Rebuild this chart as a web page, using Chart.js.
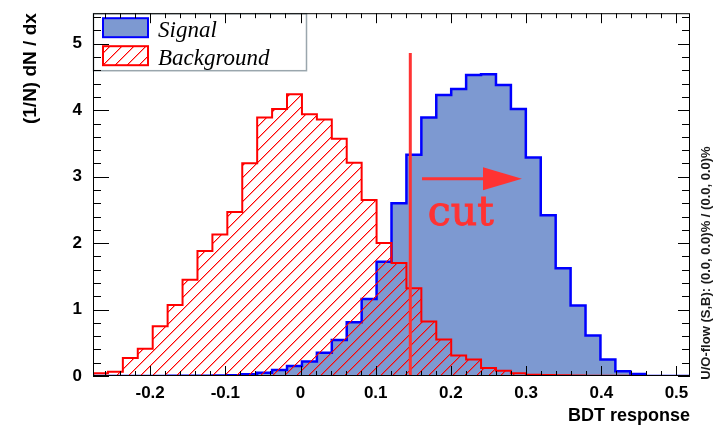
<!DOCTYPE html>
<html>
<head>
<meta charset="utf-8">
<script src="https://cdn.jsdelivr.net/npm/chart.js@4.4.1/dist/chart.umd.min.js"></script>
<style>
  html, body { margin: 0; padding: 0; background: #ffffff; }
  #wrap { width: 722px; height: 426px; }
</style>
</head>
<body>
<div id="wrap"><canvas id="c" width="722" height="426"></canvas></div>
<script>
// Axis ranges and binning of the BDT response histograms
const X_MIN = -0.276;
const X_MAX = 0.518;
const N_BINS = 40;
const Y_MIN = 0;
const Y_MAX = 5.46;

// Normalised bin contents, (1/N) dN/dx, one value per bin from X_MIN upwards
const signalValues = [
  0, 0, 0, 0, 0, 0.002, 0.003, 0.005, 0.008, 0.012,
  0.025, 0.05, 0.09, 0.15, 0.22, 0.35, 0.54, 0.81, 1.16, 1.72,
  2.60, 3.33, 3.89, 4.23, 4.32, 4.53, 4.54, 4.38, 4.02, 3.29,
  2.42, 1.62, 1.06, 0.61, 0.25, 0.07, 0.03, 0, 0, 0
];
const backgroundValues = [
  0.04, 0.065, 0.27, 0.41, 0.75, 1.07, 1.45, 1.88, 2.13, 2.47,
  3.20, 3.89, 4.02, 4.24, 3.94, 3.86, 3.57, 3.21, 2.65, 2.00,
  1.70, 1.32, 0.82, 0.55, 0.31, 0.25, 0.12, 0.08, 0.04, 0.02,
  0.015, 0.01, 0.008, 0.005, 0.003, 0.002, 0.001, 0, 0, 0
];

// Tick labels
const xTickValues = [-0.2, -0.1, 0, 0.1, 0.2, 0.3, 0.4, 0.5];
const xTickLabels = ['-0.2', '-0.1', '0', '0.1', '0.2', '0.3', '0.4', '0.5'];
const yTickValues = [0, 1, 2, 3, 4, 5];
const yTickLabels = ['0', '1', '2', '3', '4', '5'];
const X_MINOR_STEP = 0.02, X_MAJOR_EVERY = 5;
const Y_MINOR_STEP = 0.2, Y_MAJOR_EVERY = 5;

// Cut position and the arrow pointing to the accepted side
const CUT_VALUE = 0.146;
const CUT_TOP = 4.86;
const ARROW_FROM = 0.1616, ARROW_TO = 0.2945, ARROW_HEAD = 0.2427, ARROW_Y = 2.97;
const CUT_TEXT_X = 0.1693, CUT_TEXT_Y = 2.28;

const seriesNames = ['Signal', 'Background'];
const overflowText = 'U/O-flow (S,B): (0.0, 0.0)% / (0.0, 0.0)%';

const SIG_FILL = '#7d99d1';
const SIG_LINE = '#0000ff';
const BKG_LINE = '#ff0000';
const CUT_COLOR = '#ff3333';
const SANS = '"Liberation Sans", Arial, Helvetica, sans-serif';

function histPoints(vals) {
  const w = (X_MAX - X_MIN) / N_BINS;
  const pts = vals.map((v, i) => ({ x: X_MIN + i * w, y: v }));
  pts.push({ x: X_MAX, y: vals[vals.length - 1] });
  return pts;
}

// Diagonal hatch tile ("/" direction)
function hatchPattern(rgb, size) {
  const tile = document.createElement('canvas');
  tile.width = tile.height = size;
  const g = tile.getContext('2d');
  const img = g.createImageData(size, size);
  const put = (px, py, alpha) => {
    const k = (py * size + px) * 4;
    img.data[k] = rgb[0]; img.data[k + 1] = rgb[1]; img.data[k + 2] = rgb[2];
    img.data[k + 3] = Math.max(img.data[k + 3], alpha);
  };
  for (let i = 0; i < size; i++) {
    put(i, size - 1 - i, 255);
    put((i + 1) % size, size - 1 - i, 100);
  }
  g.putImageData(img, 0, 0);
  return g.createPattern(tile, 'repeat');
}
const bkgHatch = hatchPattern([255, 0, 0], 12);

// Frame, inner tick marks, cut marker, legend and side note
const decorations = {
  id: 'decorations',
  afterDatasetsDraw(chart) {
    const { ctx, chartArea: a, scales: { x, y } } = chart;
    ctx.save();

    // cut line + arrow + label
    const cx = x.getPixelForValue(CUT_VALUE);
    ctx.strokeStyle = CUT_COLOR;
    ctx.lineWidth = 3;
    ctx.beginPath();
    ctx.moveTo(cx, y.getPixelForValue(CUT_TOP));
    ctx.lineTo(cx, y.getPixelForValue(0));
    ctx.stroke();
    const ay = y.getPixelForValue(ARROW_Y);
    ctx.beginPath();
    ctx.moveTo(x.getPixelForValue(ARROW_FROM), ay);
    ctx.lineTo(x.getPixelForValue(ARROW_HEAD), ay);
    ctx.stroke();
    ctx.fillStyle = CUT_COLOR;
    ctx.beginPath();
    ctx.moveTo(x.getPixelForValue(ARROW_HEAD), ay - 11.5);
    ctx.lineTo(x.getPixelForValue(ARROW_TO), ay);
    ctx.lineTo(x.getPixelForValue(ARROW_HEAD), ay + 11.5);
    ctx.closePath();
    ctx.fill();
    ctx.font = '41px "DejaVu Serif", serif';
    ctx.textAlign = 'left';
    ctx.textBaseline = 'alphabetic';
    ctx.lineWidth = 1;
    const tx = x.getPixelForValue(CUT_TEXT_X), ty = y.getPixelForValue(CUT_TEXT_Y);
    ctx.fillText('cut', tx, ty);
    ctx.strokeText('cut', tx, ty);

    // legend
    const lx = a.left, ly = a.top;
    ctx.fillStyle = '#ffffff';
    ctx.fillRect(lx, ly, 213, 57);
    ctx.strokeStyle = '#9aa6ad';
    ctx.lineWidth = 1.5;
    ctx.strokeRect(lx + 0.5, ly + 0.5, 213, 57);
    ctx.lineWidth = 2;
    ctx.fillStyle = SIG_FILL;
    ctx.fillRect(lx + 10, ly + 5, 45, 19);
    ctx.strokeStyle = SIG_LINE;
    ctx.strokeRect(lx + 10, ly + 5, 45, 19);
    ctx.fillStyle = bkgHatch;
    ctx.fillRect(lx + 10, ly + 33, 45, 19);
    ctx.strokeStyle = BKG_LINE;
    ctx.strokeRect(lx + 10, ly + 33, 45, 19);
    ctx.fillStyle = '#000000';
    ctx.font = 'italic 23px "Liberation Serif", "Times New Roman", serif';
    ctx.fillText(seriesNames[0], lx + 65, ly + 24);
    ctx.fillText(seriesNames[1], lx + 65, ly + 52);

    // frame
    ctx.strokeStyle = '#000000';
    ctx.lineWidth = 1;
    ctx.strokeRect(a.left + 0.5, a.top + 0.5, a.right - a.left - 1, a.bottom - a.top - 1);

    // x ticks (bottom and top)
    ctx.beginPath();
    for (let k = Math.ceil(X_MIN / X_MINOR_STEP); k * X_MINOR_STEP <= X_MAX + 1e-9; k++) {
      const px = Math.round(x.getPixelForValue(k * X_MINOR_STEP)) + 0.5;
      const len = (k % X_MAJOR_EVERY === 0) ? 10 : 5;
      ctx.moveTo(px, a.bottom);
      ctx.lineTo(px, a.bottom - len);
      ctx.moveTo(px, a.top);
      ctx.lineTo(px, a.top + len);
    }
    // y ticks (left and right)
    for (let k = Math.ceil(Y_MIN / Y_MINOR_STEP); k * Y_MINOR_STEP <= Y_MAX + 1e-9; k++) {
      const py = Math.round(y.getPixelForValue(k * Y_MINOR_STEP)) + 0.5;
      const major = k % Y_MAJOR_EVERY === 0;
      ctx.moveTo(a.left, py);
      ctx.lineTo(a.left + (major ? 16 : 8), py);
      ctx.moveTo(a.right, py);
      ctx.lineTo(a.right - (major ? 12 : 8), py);
    }
    ctx.stroke();

    // under/overflow note on the right side
    ctx.translate(706, 263);
    ctx.rotate(-Math.PI / 2);
    ctx.fillStyle = '#1a1a1a';
    ctx.font = 'bold 13px ' + SANS;
    ctx.textAlign = 'center';
    ctx.textBaseline = 'middle';
    ctx.fillText(overflowText, 0, 0);

    ctx.restore();
  }
};

new Chart(document.getElementById('c'), {
  type: 'line',
  data: {
    datasets: [
      {
        label: seriesNames[1],
        data: histPoints(backgroundValues),
        stepped: 'before',
        borderColor: BKG_LINE,
        borderWidth: 2,
        backgroundColor: bkgHatch,
        fill: 'origin',
        pointRadius: 0,
        order: 0
      },
      {
        label: seriesNames[0],
        data: histPoints(signalValues),
        stepped: 'before',
        borderColor: SIG_LINE,
        borderWidth: 2.5,
        backgroundColor: SIG_FILL,
        fill: 'origin',
        pointRadius: 0,
        order: 1
      }
    ]
  },
  options: {
    responsive: false,
    animation: false,
    devicePixelRatio: 1,
    layout: { padding: { left: 0, right: 32, top: 10, bottom: 0 } },
    plugins: { legend: { display: false }, tooltip: { enabled: false } },
    scales: {
      x: {
        type: 'linear',
        min: X_MIN,
        max: X_MAX,
        grid: { display: false },
        border: { display: false },
        afterFit: (s) => { s.height = 50; },
        afterBuildTicks: (s) => { s.ticks = xTickValues.map(v => ({ value: v })); },
        ticks: {
          color: '#000000',
          padding: -1,
          maxRotation: 0,
          autoSkip: false,
          font: { family: SANS, size: 17, weight: 'bold' },
          callback: (v, i) => xTickLabels[i]
        },
        title: {
          display: true,
          text: 'BDT response',
          align: 'end',
          color: '#000000',
          font: { family: SANS, size: 18, weight: 'bold' },
          padding: { top: 0, bottom: -1 }
        }
      },
      y: {
        type: 'linear',
        min: Y_MIN,
        max: Y_MAX,
        grid: { display: false },
        border: { display: false },
        afterFit: (s) => { s.width = 93; },
        afterBuildTicks: (s) => { s.ticks = yTickValues.map(v => ({ value: v })); },
        ticks: {
          color: '#000000',
          padding: 3,
          autoSkip: false,
          font: { family: SANS, size: 17, weight: 'bold' },
          callback: (v, i) => yTickLabels[i]
        },
        title: {
          display: true,
          text: '(1/N) dN / dx',
          align: 'end',
          color: '#000000',
          font: { family: SANS, size: 19, weight: 'bold' },
          padding: { top: 19, bottom: 0 }
        }
      }
    }
  },
  plugins: [decorations]
});
</script>
</body>
</html>
